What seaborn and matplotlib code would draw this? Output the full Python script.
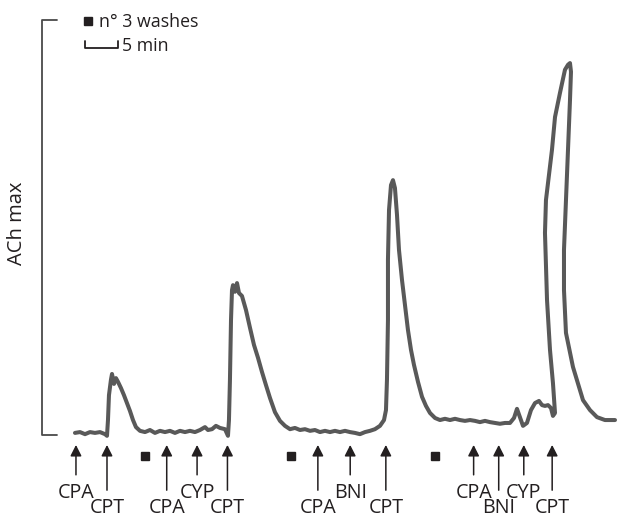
import matplotlib
matplotlib.use("Agg")
import matplotlib.pyplot as plt
import seaborn as sns
import numpy as np

sns.set_theme(style="white")
plt.rcParams['font.family'] = ['Open Sans', 'DejaVu Sans']

# Trace: time (min) and response (% of ACh max)
time_min = [0.00, 0.76, 1.52, 2.27, 3.03, 3.79, 4.55, 4.85,
            5.00, 5.15, 5.45, 5.61, 5.91, 6.21, 6.52, 6.97, 7.42, 7.88, 8.33, 8.79, 9.24, 9.85,
            10.61, 11.36, 12.12, 12.88, 13.64, 14.39, 15.15, 15.91, 16.67, 17.42, 18.18, 18.94,
            19.70, 20.15, 20.76, 21.36, 21.97, 22.73, 23.18,
            23.33, 23.48, 23.64, 23.79, 23.94, 24.24, 24.55, 24.85, 25.30, 25.91, 26.52, 27.12,
            27.73, 28.33, 28.94, 29.55, 30.30, 31.06, 31.82, 32.58,
            33.33, 34.09, 34.85, 35.61, 36.36, 37.12, 37.88, 38.64, 39.39, 40.15, 40.91, 41.67,
            42.42, 43.18, 43.94, 44.70, 45.45, 46.21, 46.82, 47.12,
            47.27, 47.42, 47.42, 47.58, 47.88, 48.18, 48.48, 48.79, 49.09, 49.55, 50.00, 50.45,
            50.91, 51.36, 51.97, 52.58, 53.18, 53.79, 54.55, 55.30,
            56.06, 56.82, 57.58, 58.33, 59.09, 59.85, 60.61, 61.36, 62.12, 62.88, 63.64, 64.39,
            65.15, 65.91, 66.52, 66.97, 67.42, 67.88, 68.48, 69.09, 69.70, 70.30, 70.76, 71.21,
            71.67, 72.12, 72.42,
            72.73, 72.42, 71.97, 71.52, 71.21, 71.36, 71.67, 72.27, 72.73, 73.48, 74.24, 74.70,
            75.00,
            75.15, 75.00, 74.70, 74.39, 74.09, 74.09, 74.39, 75.45, 76.97, 78.03, 79.09, 80.30,
            81.82]
response_pct = [0.5, 0.7, 0.2, 0.7, 0.5, 0.7, 0.2, -0.2,
                3.6, 9.6, 13.3, 14.7, 12.3, 13.7, 12.8, 11.3, 9.6, 7.7, 5.8, 3.6, 1.9, 1.0,
                0.7, 1.2, 0.5, 1.0, 0.7, 1.0, 0.5, 1.0, 0.7, 1.0, 0.7, 1.2,
                1.9, 1.2, 1.4, 2.2, 1.7, 1.4, -0.2,
                3.6, 13.3, 27.7, 34.9, 36.1, 34.5, 36.6, 34.2, 33.5, 30.1, 25.8, 21.7,
                18.6, 15.2, 12.0, 8.9, 5.5, 3.4, 2.2, 1.4,
                1.7, 1.2, 1.4, 1.0, 1.2, 0.7, 1.0, 0.7, 1.0, 0.7, 1.0, 0.7,
                0.5, 0.2, 0.7, 1.0, 1.4, 2.2, 3.6, 6.0,
                13.3, 27.7, 42.2, 54.2, 60.2, 61.4, 59.5, 53.0, 44.6, 37.3, 31.3, 25.3,
                20.5, 16.9, 12.8, 9.2, 7.0, 5.3, 4.1, 3.6,
                3.9, 3.6, 3.9, 3.6, 3.4, 3.6, 3.4, 3.1, 3.4, 3.1, 2.9, 2.7,
                2.9, 2.9, 4.1, 6.3, 4.3, 2.2, 2.9, 6.0, 7.7, 8.2, 7.2, 7.0,
                7.2, 6.5, 4.6,
                5.3, 12.5, 20.5, 32.5, 48.7, 56.6, 60.7, 68.7, 76.6, 82.4, 88.0, 89.2,
                89.6,
                87.5, 80.7, 68.7, 56.6, 44.6, 34.9, 24.6, 16.4, 8.4, 6.0, 4.3, 3.6,
                3.6]

# Treatment arrows
arrow_times = [0.15, 4.85, 13.9, 18.5, 23.1, 36.8, 41.7, 47.1, 60.4, 64.2, 68.0, 72.3]
arrow_labels = ["CPA", "CPT", "CPA", "CYP", "CPT", "CPA", "BNI", "CPT", "CPA", "BNI", "CYP", "CPT"]
arrow_row = [0, 1, 1, 0, 1, 1, 0, 1, 0, 1, 0, 1]   # 0 = upper label row, 1 = lower
wash_times = [10.6, 32.8, 54.5]

fig = plt.figure(figsize=(6.22, 5.18), dpi=100)
ax = fig.add_axes([0, 0, 1, 1])
ax.set_xlim(-11.36, 82.88)
ax.set_ylim(-20.0, 104.8)
ax.axis("off")

sns.lineplot(x=time_min, y=response_pct, sort=False, estimator=None, ax=ax,
             color="#595959", lw=2.9, solid_joinstyle="round", solid_capstyle="round")

txt = "#231f20"
# ACh max bracket
ax.plot([-2.73, -5.0, -5.0, -2.73], [100.0, 100.0, 0.0, 0.0], color="#4a4a4a", lw=1.3)
ax.text(-8.75, 51.1, "ACh max", rotation=90, ha="center", va="center", fontsize=14.5, color=txt)

# legend: washes + time scale
ax.plot([2.0], [99.8], marker="s", ms=5.5, color=txt, ls="none")
ax.text(3.6, 99.6, "n° 3 washes", ha="left", va="center", fontsize=12.8, color=txt)
ax.plot([1.52, 1.52, 6.52, 6.52], [94.9, 93.3, 93.3, 94.9], color=txt, lw=1.3)
ax.text(7.1, 93.8, "5 min", ha="left", va="center", fontsize=12.8, color=txt)

# arrows
for t, lab, row in zip(arrow_times, arrow_labels, arrow_row):
    tail = -9.6 if row == 0 else -13.3
    ly = -15.2 if row == 0 else -18.75
    ax.annotate("", xy=(t, -2.4), xytext=(t, tail),
                arrowprops=dict(arrowstyle="-|>,head_length=0.55,head_width=0.28",
                                color=txt, lw=1.1, shrinkA=0, shrinkB=0))
    ax.text(t, ly, lab, ha="center", va="baseline", fontsize=14.2, color=txt)

ax.plot(wash_times, [-5.1] * len(wash_times), marker="s", ms=6, color=txt, ls="none")

fig.savefig("out.png", dpi=100, facecolor="white")
